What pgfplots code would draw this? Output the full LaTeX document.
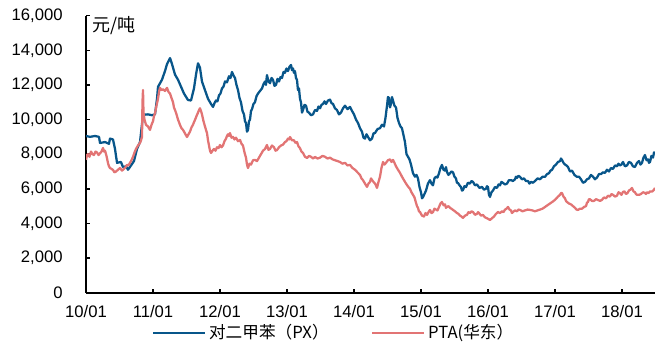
\documentclass[border=0pt]{standalone}
\usepackage{fontspec}
\setmainfont{Liberation Sans}
\newfontfamily\cjk{Noto Sans CJK SC}
\usepackage{pgfplots}
\pgfplotsset{compat=1.18}
\definecolor{pxblue}{RGB}{8,86,138}
\definecolor{ptared}{RGB}{226,116,116}
\begin{document}
\begin{tikzpicture}
\useasboundingbox (-64.5pt,-40.7pt) rectangle (426.75pt,219.5pt);
\begin{axis}[
  at={(0,0)}, anchor=south west,
  scale only axis, width=426.75pt, height=207.75pt,
  xmin=0, xmax=8.493, ymin=0, ymax=16000,
  axis x line=bottom, axis y line=left,
  axis line style={line width=1.3pt, -},
  tick align=inside, major tick length=3pt,
  tick style={line width=1.1pt, black},
  xtick={0,1,2,3,4,5,6,7,8},
  xticklabels={10/01,11/01,12/01,13/01,14/01,15/01,16/01,17/01,18/01},
  ytick={0,2000,4000,6000,8000,10000,12000,14000,16000},
  scaled y ticks=false,
  /pgf/number format/.cd, 1000 sep={,}, assume math mode=true, /pgfplots/.cd,
  ticklabel style={font=\fontsize{12.5}{14}\selectfont},
  yticklabel style={xshift=-14pt},
  xticklabel style={yshift=-6pt},
  legend columns=2,
  legend style={at={(0.436,-0.145)}, anchor=center, draw=none, fill=none,
    font=\cjk\fontsize{12.5}{14}\selectfont, inner sep=0pt,
    /tikz/every even column/.append style={column sep=30pt}},
  legend image code/.code={\draw[#1, line width=1.6pt] (0pt,0pt) -- (39pt,0pt);},
  clip mode=individual,
]
\addplot[pxblue, line width=1.7pt, line join=round] coordinates {
(0.000,9050)(0.060,9000)(0.134,9050)(0.194,9000)(0.209,8650)(0.284,8700)(0.343,8600)(0.358,8900)
(0.403,8850)(0.433,8300)(0.463,7500)(0.522,7550)(0.552,7250)(0.597,7300)(0.627,7100)(0.672,7350)
(0.716,7600)(0.761,8300)(0.806,8700)(0.851,10270)(0.925,10300)(0.985,10250)(1.030,10300)(1.060,11200)
(1.075,11890)(1.134,12300)(1.179,12800)(1.209,13200)(1.254,13550)(1.284,13200)(1.328,12600)(1.373,12300)
(1.418,11900)(1.463,11500)(1.522,11130)(1.567,11100)(1.612,11800)(1.642,12600)(1.672,13250)(1.701,13000)
(1.731,12200)(1.776,11700)(1.821,11200)(1.866,10900)
(1.896,10730)(1.918,10950)(1.940,11100)(1.962,11050)(1.985,11400)(2.007,11500)(2.030,11800)(2.052,11900)
(2.075,12200)(2.104,12150)(2.134,12500)(2.157,12400)(2.179,12750)(2.201,12550)(2.224,12400)(2.246,12000)
(2.269,11700)(2.291,11250)(2.313,11000)(2.336,10500)(2.358,10300)(2.373,9900)(2.388,9800)(2.403,9300)
(2.418,9400)(2.433,9900)(2.448,10000)(2.463,10500)(2.478,10600)(2.500,10900)(2.522,11000)(2.545,11350)
(2.567,11500)(2.597,11650)(2.627,11800)(2.650,12050)(2.672,12200)(2.686,12000)(2.701,12570)(2.724,12200)
(2.746,12100)(2.769,12400)(2.791,12300)(2.813,11950)(2.836,12000)(2.858,12350)(2.881,12200)(2.903,12450)
(2.925,12400)(2.948,12750)(2.970,12700)(2.992,12950)(3.015,12800)(3.037,13050)(3.060,13150)(3.075,12850)
(3.090,12950)(3.104,12700)(3.119,12800)(3.134,12400)(3.149,12300)(3.164,11700)(3.179,11800)(3.194,11200)
(3.209,11000)(3.224,10400)(3.239,10550)(3.261,10850)(3.284,10800)(3.306,10450)(3.328,10400)(3.358,10250)
(3.388,10300)(3.418,10550)(3.448,10500)(3.470,10750)(3.493,10650)(3.515,10850)(3.537,10900)(3.560,11050)
(3.582,10900)(3.612,11100)(3.642,11150)(3.664,10950)(3.687,10900)(3.716,10650)(3.746,10550)(3.776,10300)
(3.806,10400)(3.836,10650)(3.866,10800)(3.903,10600)(3.940,10730)(3.970,10500)(4.000,10300)(4.030,10000)
(4.060,9800)(4.090,9500)(4.119,9300)(4.142,8950)(4.164,8900)(4.187,9150)(4.209,9000)(4.239,8800)
(4.269,8900)(4.291,9200)(4.313,9220)(4.351,9450)(4.388,9500)(4.418,9700)(4.448,9600)(4.470,10100)
(4.493,10800)(4.507,11300)(4.522,11250)(4.537,10700)(4.552,10900)(4.567,11300)(4.582,11100)(4.604,10800)
(4.627,10700)(4.649,10100)(4.672,9800)(4.694,9600)(4.716,9500)(4.739,9100)(4.761,8700)(4.784,8000)
(4.806,7850)(4.828,7700)(4.851,7400)(4.881,6900)(4.910,6700)(4.933,6800)(4.955,6600)(4.978,6100)
(5.000,5800)(5.015,5450)(5.030,5520)(5.052,5700)(5.075,5900)(5.104,6300)(5.134,6500)(5.157,6300)
(5.179,6200)(5.201,6600)(5.224,6700)(5.246,6650)(5.269,6900)(5.291,7200)(5.313,7380)(5.336,7100)
(5.358,7050)(5.373,7250)(5.388,6970)(5.410,6800)(5.433,6900)(5.455,7000)(5.478,6950)(5.500,6700)
(5.522,6600)(5.537,6350)(5.552,6340)(5.575,6200)(5.597,6100)(5.612,5900)(5.627,5930)(5.649,6150)
(5.672,6100)(5.701,6350)(5.731,6300)(5.754,6450)(5.776,6400)(5.806,6200)(5.836,6250)(5.873,6050)
(5.910,6110)(5.940,5950)(5.970,6000)(5.985,6150)(6.000,6100)(6.015,5650)(6.030,5530)(6.052,5800)
(6.075,5900)(6.104,6100)(6.134,6050)(6.157,6250)(6.179,6200)(6.201,6400)(6.224,6340)(6.254,6250)
(6.284,6300)(6.313,6500)(6.343,6500)(6.373,6450)(6.403,6550)(6.418,6700)(6.433,6630)(6.455,6750)
(6.478,6690)(6.507,6550)(6.537,6600)(6.567,6450)(6.597,6450)(6.619,6300)(6.642,6400)(6.672,6350)
(6.701,6450)(6.739,6600)(6.776,6550)(6.813,6700)(6.851,6690)(6.881,6850)(6.910,6900)(6.933,7050)
(6.955,7090)(6.985,7300)(7.015,7400)(7.045,7550)(7.075,7600)(7.090,7750)(7.104,7670)(7.127,7500)
(7.149,7400)(7.172,7350)(7.194,7260)(7.224,7000)(7.254,7050)(7.291,6800)(7.328,6690)(7.358,6700)
(7.388,6550)(7.418,6350)(7.448,6400)(7.478,6550)(7.507,6600)(7.537,6800)(7.567,6700)(7.597,6550)
(7.627,6650)(7.657,6850)(7.687,6850)(7.716,6950)(7.746,6920)(7.776,7100)(7.806,7000)(7.836,7200)
(7.866,7150)(7.896,7350)(7.925,7300)(7.948,7450)(7.970,7350)(7.992,7400)(8.015,7550)(8.045,7300)
(8.075,7350)(8.104,7550)(8.134,7500)(8.164,7300)(8.194,7260)(8.224,7500)(8.254,7600)(8.276,7400)
(8.299,7500)(8.321,7800)(8.343,7950)(8.366,7650)(8.388,7700)(8.403,7500)(8.418,7550)(8.440,7900)
(8.463,7800)(8.478,8100)(8.493,8070)
};
\addlegendentry{对二甲苯（PX）}
\addplot[ptared, line width=1.7pt, line join=round] coordinates {
(0.000,7670)(0.015,7950)(0.030,8000)(0.052,7850)(0.075,8150)(0.097,8000)(0.119,7950)(0.142,8150)
(0.164,8100)(0.187,7950)(0.209,8050)(0.231,8150)(0.254,8360)(0.269,8150)(0.284,8200)(0.306,7900)
(0.328,7490)(0.343,7300)(0.358,7200)(0.381,7150)(0.403,7090)(0.425,6950)(0.448,7000)(0.478,7100)
(0.507,7200)(0.537,7050)(0.567,7150)(0.590,7250)(0.612,7380)(0.634,7350)(0.657,7500)(0.679,7650)
(0.701,7840)(0.724,8100)(0.746,8300)(0.776,8500)(0.806,8650)(0.821,8800)(0.836,9000)(0.843,11000)
(0.851,11710)(0.858,10400)(0.873,10000)(0.896,9690)(0.925,9600)(0.940,9500)(0.955,9400)(0.978,9700)
(1.000,9900)(1.015,10200)(1.030,10370)(1.052,10800)(1.075,11200)(1.090,11600)(1.104,11830)(1.127,11700)
(1.149,11750)(1.179,11650)(1.209,11830)(1.231,11600)(1.254,11500)(1.276,11250)(1.299,11000)(1.313,10700)
(1.328,10560)(1.351,10300)(1.373,10000)(1.388,9850)(1.403,9690)(1.425,9500)(1.448,9400)(1.478,9200)
(1.507,8990)(1.530,9150)(1.552,9300)(1.575,9550)(1.597,9700)(1.612,9850)(1.627,9980)(1.649,10200)
(1.672,10400)(1.687,10550)(1.701,10650)(1.716,10500)(1.731,10300)(1.754,9900)(1.776,9600)(1.791,9400)
(1.806,9220)(1.821,8800)(1.836,8500)(1.851,8200)
(1.866,8070)(1.888,8200)(1.910,8300)(1.933,8200)(1.955,8400)(1.978,8350)(2.000,8530)(2.022,8400)
(2.045,8500)(2.067,8750)(2.090,8900)(2.104,9050)(2.119,9150)(2.134,9050)(2.149,9220)(2.172,8950)
(2.194,9000)(2.216,8850)(2.239,8950)(2.269,8750)(2.299,8820)(2.321,8600)(2.343,8500)(2.366,8100)
(2.388,7800)(2.403,7400)(2.418,7200)(2.440,7450)(2.463,7400)(2.493,7650)(2.522,7670)(2.552,7600)
(2.582,7800)(2.612,8000)(2.642,8200)(2.672,8300)(2.701,8530)(2.724,8250)(2.746,8300)(2.776,8500)
(2.806,8400)(2.828,8200)(2.851,8240)(2.881,8400)(2.910,8500)(2.940,8550)(2.970,8700)(2.992,8750)
(3.015,8900)(3.030,8850)(3.045,8990)(3.075,8800)(3.104,8800)(3.127,8650)(3.149,8700)(3.172,8450)
(3.194,8350)(3.216,8150)(3.239,8070)(3.269,7850)(3.299,7780)(3.328,7900)(3.358,7850)(3.388,7750)
(3.418,7840)(3.455,7750)(3.493,7800)(3.530,7900)(3.567,7850)(3.604,7750)(3.642,7800)(3.679,7700)
(3.716,7650)(3.754,7600)(3.791,7550)(3.828,7450)(3.866,7500)(3.903,7350)(3.940,7380)(3.978,7200)
(4.015,7100)(4.052,6950)(4.090,6800)(4.112,6600)(4.134,6500)(4.164,6300)(4.194,6110)(4.216,6300)
(4.239,6400)(4.254,6600)(4.269,6510)(4.291,6400)(4.313,6300)(4.328,6200)(4.343,6050)(4.366,6400)
(4.388,6700)(4.410,7200)(4.433,7550)(4.455,7400)(4.478,7500)(4.507,7650)(4.537,7700)(4.560,7550)
(4.582,7670)(4.604,7500)(4.627,7300)(4.657,7100)(4.687,6920)(4.716,6700)(4.746,6500)(4.769,6350)
(4.791,6220)(4.813,6100)(4.836,6000)(4.858,5800)(4.881,5650)(4.903,5500)(4.925,5200)(4.940,5000)
(4.955,4900)(4.970,4700)(4.985,4660)(5.015,4450)(5.045,4400)(5.067,4600)(5.090,4490)(5.112,4650)
(5.134,4780)(5.157,4600)(5.179,4650)(5.201,4850)(5.224,4800)(5.246,4750)(5.269,4950)(5.291,5150)
(5.313,5240)(5.336,5050)(5.358,5100)(5.373,4900)(5.388,4950)(5.410,5000)(5.433,4900)(5.455,4850)
(5.478,4780)(5.507,4700)(5.537,4600)(5.560,4550)(5.582,4450)(5.604,4400)(5.627,4320)(5.657,4450)
(5.687,4500)(5.709,4650)(5.731,4600)(5.754,4700)(5.776,4660)(5.806,4500)(5.836,4550)(5.851,4650)
(5.866,4600)(5.896,4450)(5.925,4490)(5.955,4350)(5.985,4300)(6.007,4250)(6.030,4200)(6.060,4300)
(6.090,4400)(6.119,4550)(6.149,4660)(6.179,4600)(6.209,4700)(6.231,4650)(6.254,4800)(6.276,4850)
(6.299,4950)(6.321,4800)(6.343,4750)(6.358,4600)(6.373,4660)(6.403,4750)(6.433,4700)(6.455,4800)
(6.478,4780)(6.515,4700)(6.552,4750)(6.590,4800)(6.627,4780)(6.664,4750)(6.701,4700)(6.739,4750)
(6.776,4800)(6.813,4850)(6.851,4950)(6.888,5050)(6.925,5150)(6.963,5250)(7.000,5360)(7.022,5450)
(7.045,5550)(7.075,5650)(7.090,5750)(7.104,5760)(7.127,5550)(7.149,5450)(7.164,5300)(7.179,5240)
(7.209,5150)(7.239,5100)(7.269,5000)(7.299,4900)(7.321,4800)(7.343,4780)(7.373,4850)(7.403,4850)
(7.433,4950)(7.463,5000)(7.478,5200)(7.493,5240)(7.507,5400)(7.522,5400)(7.552,5300)(7.582,5300)
(7.612,5400)(7.642,5350)(7.672,5300)(7.701,5360)(7.731,5500)(7.761,5450)(7.791,5600)(7.821,5550)
(7.843,5700)(7.866,5650)(7.896,5550)(7.925,5600)(7.948,5800)(7.970,5750)(7.992,5650)(8.015,5820)
(8.037,5850)(8.060,5700)(8.082,5750)(8.104,5900)(8.127,5950)(8.149,6050)(8.172,5850)(8.194,5800)
(8.209,5700)(8.224,5650)(8.254,5650)(8.284,5700)(8.313,5800)(8.343,5760)(8.358,5700)(8.373,5800)
(8.396,5750)(8.418,5850)(8.455,5850)(8.478,5950)(8.493,6050)
};
\addlegendentry{PTA(华东）}
\end{axis}
\node[anchor=west, font=\cjk\fontsize{13.5}{15}\selectfont] at (1.5pt,200pt) {元/吨};
\end{tikzpicture}
\end{document}
